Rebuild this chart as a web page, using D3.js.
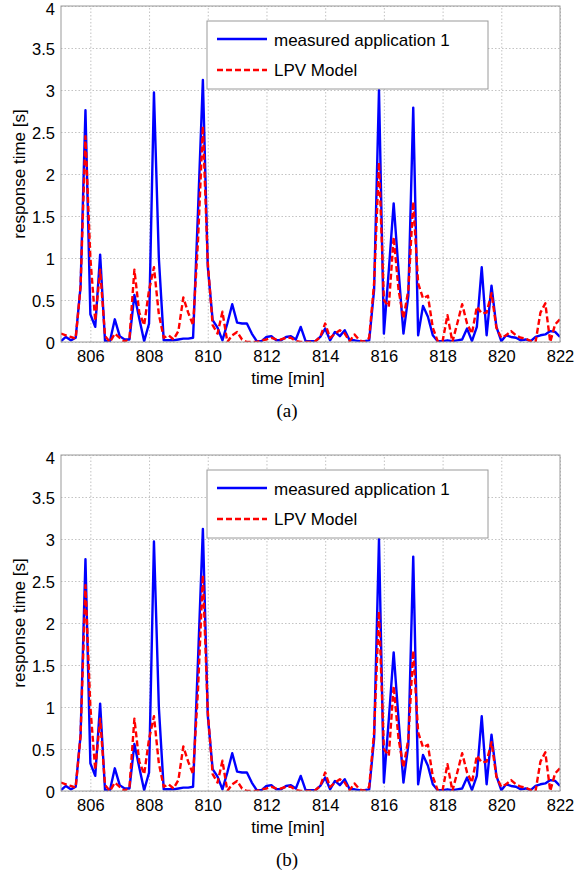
<!DOCTYPE html>
<html>
<head>
<meta charset="utf-8">
<script src="https://cdn.jsdelivr.net/npm/d3@7"></script>
<style>
  body { margin: 0; background: #fff; }
  svg { display: block; font-family: "Liberation Sans", Arial, sans-serif; }
  .grid line { stroke: #b4b4b4; stroke-dasharray: 1.5,2; stroke-width: 0.8; }
  .grid path { display: none; }
  .tick-label { font-size: 16.5px; fill: #000; }
</style>
</head>
<body>
<div id="chart"></div>
<script>
// sampling: one value every 10 s, starting at minute 805
const startMin = 805;
const stepMin = 1 / 6;

// measured application 1 response time [s]
const measured = [
  0.01, 0.06, 0.02, 0.05, 0.66, 2.76, 0.33, 0.18, 1.04, 0.01,
  0.01, 0.27, 0.07, 0.03, 0.03, 0.56, 0.28, 0.01, 0.22, 2.97,
  1.00, 0.02, 0.02, 0.02, 0.03, 0.04, 0.04, 0.05, 1.55, 3.12,
  0.90, 0.26, 0.17, 0.02, 0.22, 0.45, 0.23, 0.22, 0.22, 0.10,
  0.01, 0.01, 0.06, 0.07, 0.02, 0.02, 0.06, 0.07, 0.03, 0.18,
  0.01, 0.01, 0.01, 0.06, 0.16, 0.02, 0.12, 0.07, 0.14, 0.02,
  0.02, 0.01, 0.01, 0.02, 0.62, 3.00, 0.10, 0.85, 1.65, 0.85,
  0.10, 0.55, 2.79, 0.08, 0.43, 0.30, 0.08, 0.01, 0.01, 0.02,
  0.01, 0.02, 0.03, 0.16, 0.01, 0.18, 0.89, 0.08, 0.67, 0.18,
  0.01, 0.08, 0.06, 0.05, 0.02, 0.03, 0.01, 0.06, 0.08, 0.09,
  0.13, 0.12, 0.06
];

// LPV model output [s]
const model = [
  0.10, 0.08, 0.06, 0.04, 0.66, 2.45, 1.00, 0.25, 0.86, 0.07,
  0.00, 0.10, 0.05, 0.00, 0.05, 0.86, 0.35, 0.20, 0.62, 0.89,
  0.33, 0.05, 0.08, 0.03, 0.13, 0.53, 0.35, 0.20, 1.20, 2.57,
  0.95, 0.20, 0.10, 0.36, 0.00, 0.08, 0.12, 0.03, 0.00, 0.00,
  0.00, 0.02, 0.03, 0.05, 0.03, 0.03, 0.05, 0.05, 0.01, 0.00,
  0.00, 0.00, 0.01, 0.06, 0.22, 0.05, 0.10, 0.14, 0.10, 0.01,
  0.09, 0.02, 0.00, 0.05, 0.70, 2.14, 0.50, 0.42, 1.25, 0.62,
  0.28, 0.62, 1.67, 0.70, 0.52, 0.55, 0.17, 0.01, 0.01, 0.32,
  0.00, 0.22, 0.45, 0.22, 0.10, 0.42, 0.34, 0.35, 0.58, 0.17,
  0.05, 0.08, 0.13, 0.08, 0.05, 0.04, 0.01, 0.00, 0.35, 0.46,
  0.00, 0.21, 0.27
];

const xTicks = [806, 808, 810, 812, 814, 816, 818, 820, 822];
const yTicks = [0, 0.5, 1, 1.5, 2, 2.5, 3, 3.5, 4];
const seriesNames = ["measured application 1", "LPV Model"];
const captions = ["(a)", "(b)"];

const W = 574, H = 877;
const svg = d3.select("#chart").append("svg")
  .attr("width", W).attr("height", H);
svg.append("rect").attr("width", W).attr("height", H).attr("fill", "#fff");

const x = d3.scaleLinear().domain([805, 822]).range([61, 560]);

function drawPanel(top, caption, id) {
  let y = d3.scaleLinear().domain([0, 4]).range([top + 336, top]);
  let g = svg.append("g");

  // clip for lines
  g.append("clipPath").attr("id", "clip" + id)
    .append("rect")
    .attr("x", x.range()[0]).attr("y", top)
    .attr("width", x.range()[1] - x.range()[0]).attr("height", 336);

  // grid
  g.append("g").attr("class", "grid")
    .attr("transform", "translate(0," + (top + 336) + ")")
    .call(d3.axisBottom(x).tickValues(xTicks).tickSize(-336).tickFormat(""));
  g.append("g").attr("class", "grid")
    .attr("transform", "translate(61,0)")
    .call(d3.axisLeft(y).tickValues(yTicks).tickSize(-499).tickFormat(""));

  let lineGen = d3.line()
    .x(function (d, i) { return x(startMin + i * stepMin); })
    .y(function (d) { return y(d); });

  let lines = g.append("g").attr("clip-path", "url(#clip" + id + ")");
  lines.append("path")
    .datum(measured)
    .attr("d", lineGen)
    .attr("fill", "none")
    .attr("stroke", "#0000ff")
    .attr("stroke-width", 2.4)
    .attr("stroke-linejoin", "round");
  lines.append("path")
    .datum(model)
    .attr("d", lineGen)
    .attr("fill", "none")
    .attr("stroke", "#ff0000")
    .attr("stroke-width", 2.4)
    .attr("stroke-dasharray", "6,3")
    .attr("stroke-linejoin", "round");

  // frame
  g.append("rect")
    .attr("x", 61).attr("y", top)
    .attr("width", 499).attr("height", 336)
    .attr("fill", "none").attr("stroke", "#9a9a9a").attr("stroke-width", 1);

  // tick labels
  let xa = g.append("g")
    .attr("transform", "translate(0," + (top + 336) + ")")
    .call(d3.axisBottom(x).tickValues(xTicks).tickSize(0).tickPadding(8).tickFormat(d3.format("d")));
  xa.select(".domain").remove();
  xa.selectAll("text").attr("class", "tick-label").attr("font-family", null);

  let ya = g.append("g")
    .attr("transform", "translate(61,0)")
    .call(d3.axisLeft(y).tickValues(yTicks).tickSize(0).tickPadding(6).tickFormat(d3.format("")));
  ya.select(".domain").remove();
  ya.selectAll("text").attr("class", "tick-label").attr("font-family", null)
    .attr("dy", function (d) { return d === 4 ? "0.5em" : "0.37em"; });

  // axis labels
  g.append("text")
    .attr("x", 288).attr("y", top + 378)
    .attr("text-anchor", "middle")
    .attr("font-size", 17)
    .text("time [min]");
  g.append("text")
    .attr("transform", "translate(25," + (top + 168) + ") rotate(-90)")
    .attr("text-anchor", "middle")
    .attr("font-size", 17)
    .text("response time [s]");

  // legend
  let lg = g.append("g");
  lg.append("rect")
    .attr("x", 207).attr("y", top + 15)
    .attr("width", 281).attr("height", 68)
    .attr("fill", "#fff").attr("stroke", "#9a9a9a").attr("stroke-width", 1);
  lg.append("line")
    .attr("x1", 217).attr("x2", 267)
    .attr("y1", top + 33).attr("y2", top + 33)
    .attr("stroke", "#0000ff").attr("stroke-width", 2.4);
  lg.append("line")
    .attr("x1", 217).attr("x2", 267)
    .attr("y1", top + 64).attr("y2", top + 64)
    .attr("stroke", "#ff0000").attr("stroke-width", 2.4)
    .attr("stroke-dasharray", "6,3");
  lg.append("text")
    .attr("x", 274).attr("y", top + 39.5)
    .attr("font-size", 17)
    .text(seriesNames[0]);
  lg.append("text")
    .attr("x", 274).attr("y", top + 70)
    .attr("font-size", 17)
    .text(seriesNames[1]);

  // caption
  g.append("text")
    .attr("x", 287).attr("y", top + 411)
    .attr("text-anchor", "middle")
    .attr("font-family", "'Liberation Serif', 'Times New Roman', serif")
    .attr("font-size", 19)
    .text(caption);
}

drawPanel(6, captions[0], 0);
drawPanel(455, captions[1], 1);
</script>
</body>
</html>
